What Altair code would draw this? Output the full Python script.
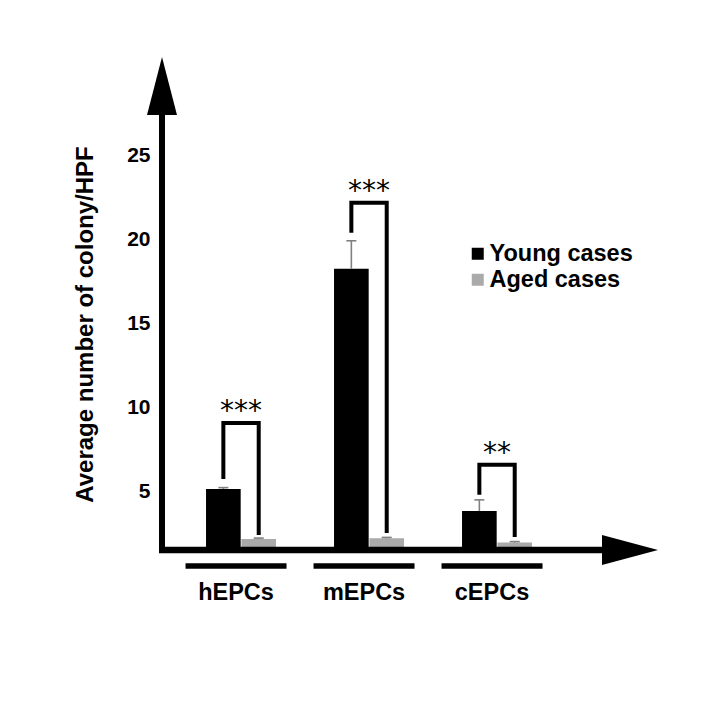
import altair as alt
import pandas as pd

groups = ["hEPCs", "mEPCs", "cEPCs"]
series = ["Young cases", "Aged cases"]
young = [5.14, 18.27, 3.83]
young_err = [0.08, 1.67, 0.66]
aged = [2.16, 2.2, 1.95]
aged_err = [0.05, 0.05, 0.05]
sig = ["***", "***", "**"]
bracket_top = [9.08, 22.21, 6.58]
bracket_left = [5.74, 20.42, 4.79]
bracket_right = [2.40, 2.52, 2.28]
y_ticks = [5, 10, 15, 20, 25]
Y0, Y1 = 1.5, 30.9

W, H = 496, 493
FONT = "Liberation Sans"

rows = []
for i, g in enumerate(groups):
    rows.append({"group": g, "series": series[0], "value": young[i], "err": young_err[i]})
    rows.append({"group": g, "series": series[1], "value": aged[i], "err": aged_err[i]})
bars_df = pd.DataFrame(rows)
bars_df["top"] = bars_df["value"] + bars_df["err"]

br = []
for i, g in enumerate(groups):
    br += [
        {"group": g, "series": series[0], "val": bracket_left[i], "ord": 0},
        {"group": g, "series": series[0], "val": bracket_top[i], "ord": 1},
        {"group": g, "series": series[1], "val": bracket_top[i], "ord": 2},
        {"group": g, "series": series[1], "val": bracket_right[i], "ord": 3},
    ]
br_df = pd.DataFrame(br)
stars_df = pd.DataFrame({"group": groups, "sig": sig, "top": bracket_top})
one = pd.DataFrame({"a": [0]})

xenc = alt.X(
    "group:N", sort=groups, title=None,
    scale=alt.Scale(paddingInner=0.453, paddingOuter=0.664, align=0.259),
    axis=alt.Axis(labelAngle=0, domain=False, ticks=False, tickSize=0,
                  labelFont=FONT, labelFontWeight="bold", labelFontSize=23.5,
                  labelColor="black", labelPadding=49, labelBaseline="alphabetic",
                  labelOffset=-5),
)
xoff = alt.XOffset("series:N", sort=series, scale=alt.Scale(paddingInner=0.02))
yscale = alt.Scale(domain=[Y0, Y1], zero=False, nice=False)
yenc = alt.Y(
    "value:Q", scale=yscale, title="Average number of colony/HPF",
    axis=alt.Axis(values=y_ticks, domain=False, ticks=False, tickSize=0, grid=False,
                  labelFont=FONT, labelFontWeight="bold", labelFontSize=21,
                  labelColor="black", labelPadding=12,
                  titleFont=FONT, titleFontWeight="bold", titleFontSize=24,
                  titleColor="black", titleAngle=270, titleX=-77, titleY=267,
                  titleAlign="center", titleBaseline="middle"),
)

base = alt.Chart(bars_df)
bars = base.mark_bar(opacity=1).encode(
    x=xenc, xOffset=xoff, y=yenc, y2=alt.datum(Y0),
    color=alt.Color("series:N", sort=series,
                    scale=alt.Scale(domain=series, range=["#000000", "#aaaaaa"]),
                    legend=alt.Legend(title=None, orient="none", legendX=304, legendY=185,
                                      symbolType="square", symbolSize=144, symbolStrokeWidth=0,
                                      symbolOpacity=1,
                                      labelFont=FONT, labelFontWeight="bold", labelFontSize=23.5,
                                      labelColor="black", labelOffset=0, rowPadding=1,
                                      padding=0)),
)
err = base.mark_rule(color="#808080", strokeWidth=1.6).encode(
    x=alt.X("group:N", sort=groups), xOffset=xoff,
    y=alt.Y("value:Q", scale=yscale), y2="top:Q")
cap = base.mark_tick(color="#808080", thickness=1.6, size=10, orient="horizontal",
                     opacity=1).encode(
    x=alt.X("group:N", sort=groups), xOffset=xoff, y=alt.Y("top:Q", scale=yscale))

brackets = alt.Chart(br_df).mark_line(color="black", strokeWidth=4, strokeJoin="miter",
                                      strokeCap="butt").encode(
    x=alt.X("group:N", sort=groups), xOffset=xoff,
    y=alt.Y("val:Q", scale=yscale), order="ord:Q", detail="group:N")

stars = alt.Chart(stars_df).mark_text(font="DejaVu Sans", fontSize=28, baseline="alphabetic",
                                      dy=-3, color="black").encode(
    x=alt.X("group:N", sort=groups), y=alt.Y("top:Q", scale=yscale), text="sig:N")

underline = alt.Chart(stars_df).mark_tick(color="black", orient="horizontal", size=101,
                                          thickness=5.5, xOffset=-5, opacity=1).encode(
    x=alt.X("group:N", sort=groups), y=alt.value(H + 16))

yline = alt.Chart(one).mark_rule(color="black", strokeWidth=6).encode(
    x=alt.value(0), y=alt.value(45), y2=alt.value(H + 3))
xline = alt.Chart(one).mark_rule(color="black", strokeWidth=6.5).encode(
    x=alt.value(-3), x2=alt.value(W - 40), y=alt.value(H))
yarrow = alt.Chart(one).mark_point(shape="M0,-1L0.517,1L-0.517,1Z", size=3364, filled=True,
                                   opacity=1, color="black", strokeWidth=0).encode(
    x=alt.value(0), y=alt.value(29))
xarrow = alt.Chart(one).mark_point(shape="M1,0L-1,-0.536L-1,0.536Z", size=3136, filled=True,
                                   opacity=1, color="black", strokeWidth=0).encode(
    x=alt.value(468), y=alt.value(H))

chart = alt.layer(bars, err, cap, brackets, stars, underline, yline, xline, yarrow, xarrow).properties(
    width=W, height=H,
    autosize=alt.AutoSizeParams(type="none"),
    padding={"left": 154, "top": 49, "right": 30, "bottom": 120},
    background="white",
).configure_view(stroke=None)

chart.save("out.html", embed_options={"renderer": "svg", "actions": False})
